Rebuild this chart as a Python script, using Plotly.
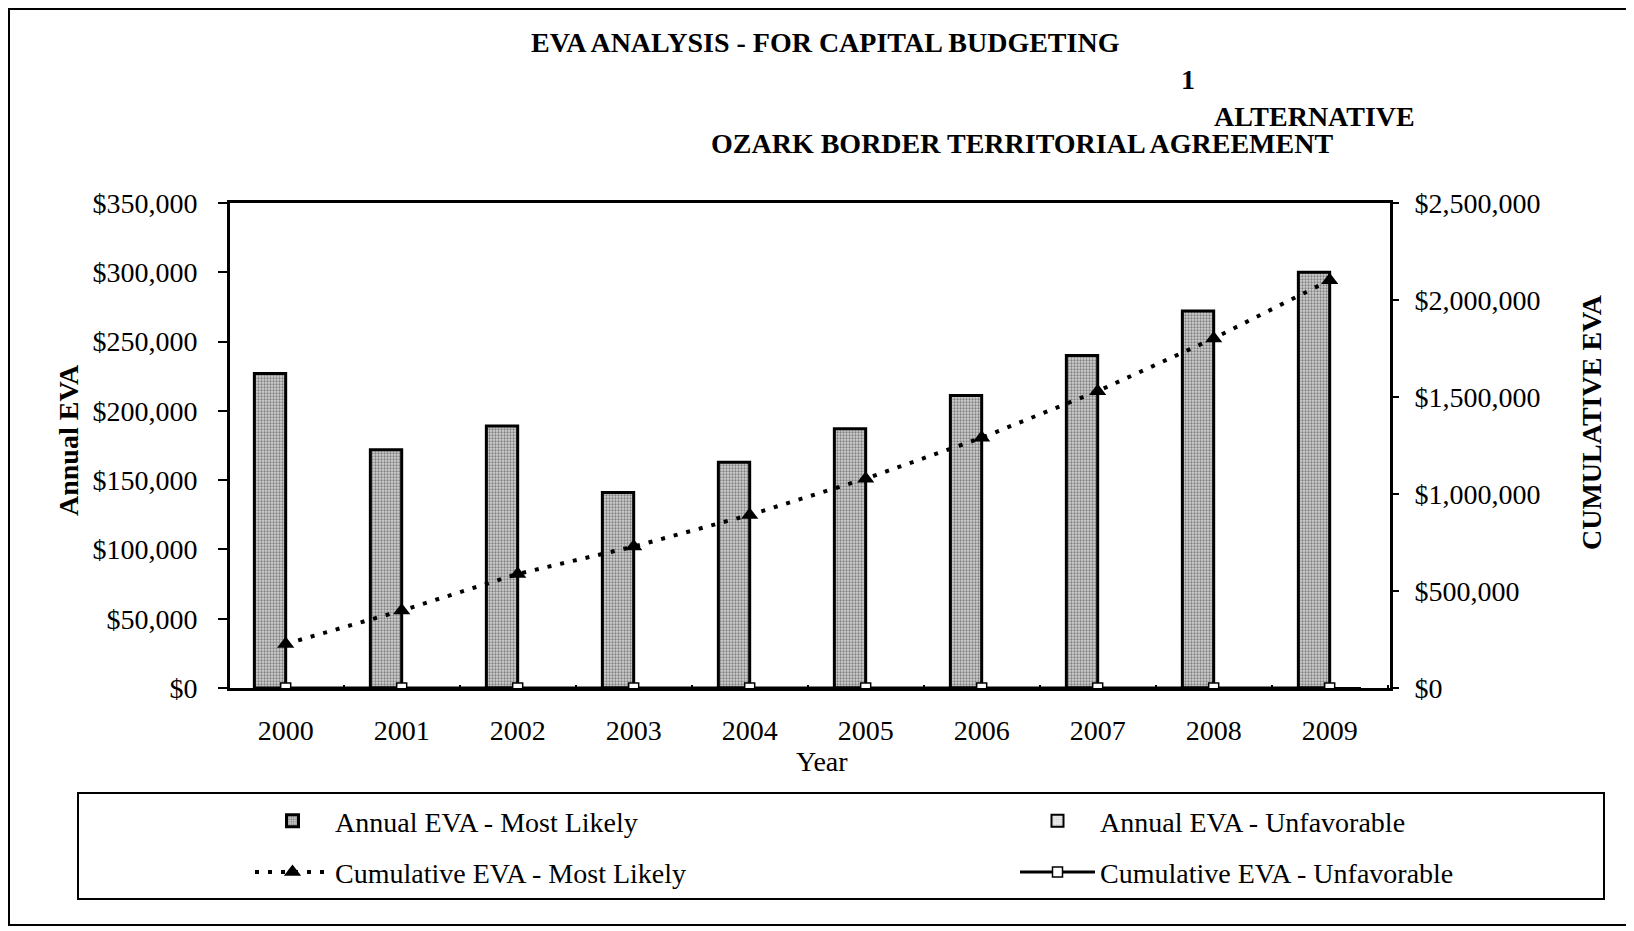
import plotly.graph_objects as go

years = ["2000", "2001", "2002", "2003", "2004", "2005", "2006", "2007", "2008", "2009"]
annual_most_likely = [227000, 172000, 189000, 141000, 163000, 187000, 211000, 240000, 272000, 300000]
annual_unfavorable = [0, 0, 0, 0, 0, 0, 0, 0, 0, 0]
cumulative_most_likely = [227000, 399000, 588000, 729000, 892000, 1079000, 1290000, 1530000, 1802000, 2102000]
cumulative_unfavorable = [0, 0, 0, 0, 0, 0, 0, 0, 0, 0]

left_ticks = [0, 50000, 100000, 150000, 200000, 250000, 300000, 350000]
left_labels = ["$0", "$50,000", "$100,000", "$150,000", "$200,000", "$250,000", "$300,000", "$350,000"]
right_ticks = [0, 500000, 1000000, 1500000, 2000000, 2500000]
right_labels = ["$0", "$500,000", "$1,000,000", "$1,500,000", "$2,000,000", "$2,500,000"]

W, H = 1634, 931
L, R, T, B = 222, 1382, 195, 680
FONT = "Liberation Serif"
FS = 28


def px_x(p):
    return (p - L) / (R - L)


def px_y(p):
    return (B - p) / (B - T)


fig = go.Figure()

fig.add_trace(go.Bar(
    x=years, y=annual_most_likely, name="Annual EVA - Most Likely",
    marker=dict(color="#b5b5b5", line=dict(color="black", width=3),
                pattern=dict(shape=".", fgcolor="#2e2e2e", bgcolor="#d2d2d2", size=3, solidity=0.45)),
    legend="legend", legendgroup="a",
))
fig.add_trace(go.Scatter(
    x=years, y=cumulative_most_likely, name="Cumulative EVA - Most Likely", yaxis="y2",
    mode="lines+markers", line=dict(color="black", width=4, dash="4px,9px"),
    marker=dict(symbol="triangle-up", size=15, color="black"),
    legend="legend", legendgroup="b",
))
fig.add_trace(go.Bar(
    x=years, y=annual_unfavorable, name="Annual EVA - Unfavorable",
    marker=dict(color="#e6e6e6", line=dict(color="black", width=2),
                pattern=dict(shape=".", fgcolor="#9a9a9a", bgcolor="#ececec", size=3, solidity=0.25)),
    legend="legend2", legendgroup="c",
))
fig.add_trace(go.Scatter(
    x=years, y=cumulative_unfavorable, name="Cumulative EVA - Unfavorable", yaxis="y2",
    mode="lines+markers", line=dict(color="black", width=3),
    marker=dict(symbol="square", size=10, color="white", line=dict(color="black", width=1.5)),
    legend="legend2", legendgroup="d",
))

legend_common = dict(
    orientation="v", xanchor="left", yanchor="top",
    font=dict(family=FONT, size=FS, color="black"),
    bgcolor="rgba(0,0,0,0)", borderwidth=0, tracegroupgap=12,
    itemwidth=75,
)

fig.update_layout(
    width=W, height=H,
    margin=dict(l=L, r=W - R, t=T, b=H - B),
    paper_bgcolor="white", plot_bgcolor="white",
    barmode="group", bargap=0.46, bargroupgap=0,
    font=dict(family=FONT, size=FS, color="black"),
    xaxis=dict(
        type="category", range=[-0.48, 9.52],
        showline=True, linecolor="black", linewidth=3, mirror=True,
        ticks="inside", tickson="boundaries", ticklen=3, tickwidth=2, tickcolor="black",
        showgrid=False, zeroline=False, ticklabelstandoff=15,
        tickfont=dict(family=FONT, size=FS, color="black"),
    ),
    yaxis=dict(
        range=[0, 350000], tickvals=left_ticks, ticktext=left_labels,
        showline=True, linecolor="black", linewidth=3, ticks="outside", ticklen=9,
        tickwidth=2, tickcolor="black", showgrid=False, zeroline=False,
        ticklabelstandoff=15, tickfont=dict(family=FONT, size=FS, color="black"),
    ),
    yaxis2=dict(
        range=[0, 2500000], tickvals=right_ticks, ticktext=right_labels,
        overlaying="y", side="right",
        showline=True, linecolor="black", linewidth=3, ticks="outside", ticklen=6,
        tickwidth=2, tickcolor="black", showgrid=False, zeroline=False,
        ticklabelstandoff=10, tickfont=dict(family=FONT, size=FS, color="black"),
    ),
    legend=dict(x=px_x(242), y=px_y(788), **legend_common),
    legend2=dict(x=px_x(1007), y=px_y(788), **legend_common),
    showlegend=True,
)

annotations = [
    dict(text="<b>EVA ANALYSIS - FOR CAPITAL BUDGETING</b>", x=817, y=34),
    dict(text="<b>1</b>", x=1180, y=71),
    dict(text="<b>ALTERNATIVE</b>", x=1306, y=109),
    dict(text="<b>OZARK BORDER TERRITORIAL AGREEMENT</b>", x=1014, y=135),
    dict(text="Year", x=814, y=753),
]
for a in annotations:
    fig.add_annotation(
        text=a["text"], x=px_x(a["x"]), y=px_y(a["y"]), xref="paper", yref="paper",
        xanchor="center", yanchor="middle", showarrow=False,
        font=dict(family=FONT, size=FS, color="black"),
    )
fig.add_annotation(text="<b>Annual EVA</b>", x=px_x(60), y=px_y(432), xref="paper", yref="paper",
                   textangle=-90, showarrow=False, xanchor="center", yanchor="middle",
                   font=dict(family=FONT, size=FS, color="black"))
fig.add_annotation(text="<b>CUMULATIVE EVA</b>", x=px_x(1583), y=px_y(414), xref="paper", yref="paper",
                   textangle=-90, showarrow=False, xanchor="center", yanchor="middle",
                   font=dict(family=FONT, size=FS, color="black"))

# outer frame and legend box
fig.add_shape(type="rect", xref="paper", yref="paper",
              x0=px_x(1), x1=px_x(1623), y0=px_y(917), y1=px_y(1),
              line=dict(color="black", width=2), layer="below")
fig.add_shape(type="rect", xref="paper", yref="paper",
              x0=px_x(70), x1=px_x(1596), y0=px_y(891), y1=px_y(785),
              line=dict(color="black", width=2), layer="below")

fig.write_html("out.html")
